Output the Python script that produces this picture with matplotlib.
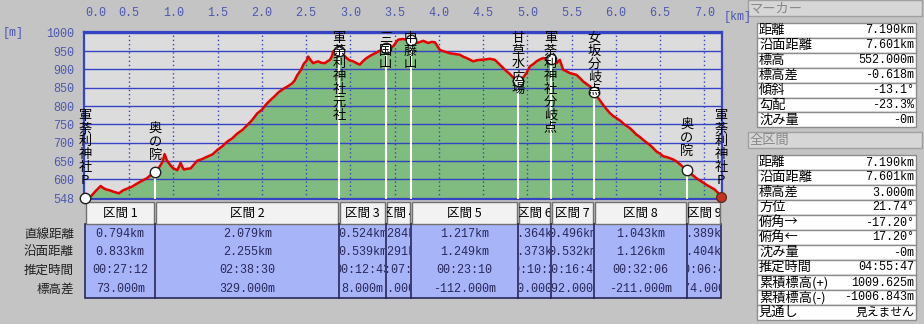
import matplotlib
matplotlib.use("Agg")
import matplotlib.pyplot as plt
from matplotlib import transforms
from matplotlib.patches import Rectangle
import numpy as np

# profile (horizontal distance km, elevation m)
dist_km = [
    0.0, 0.03, 0.064, 0.12, 0.177, 0.21, 0.234, 0.28, 0.328, 0.384,
    0.43, 0.478, 0.53, 0.591, 0.65, 0.70, 0.742, 0.794, 0.83, 0.855,
    0.88, 0.90, 0.925, 0.949, 0.975, 0.998, 1.02, 1.043, 1.065, 1.081,
    1.10, 1.119, 1.155, 1.194, 1.23, 1.269, 1.32, 1.382, 1.44, 1.495,
    1.55, 1.608, 1.665, 1.721, 1.78, 1.834, 1.89, 1.947, 2.0, 2.042,
    2.09, 2.136, 2.19, 2.249, 2.30, 2.342, 2.37, 2.399, 2.44, 2.475,
    2.50, 2.523, 2.55, 2.58, 2.61, 2.636, 2.67, 2.712, 2.74, 2.768,
    2.79, 2.806, 2.84, 2.873, 2.92, 2.957, 2.99, 3.032, 3.07, 3.107,
    3.14, 3.183, 3.23, 3.277, 3.333, 3.397, 3.44, 3.484, 3.51, 3.54,
    3.59, 3.635, 3.681, 3.70, 3.748, 3.79, 3.823, 3.879, 3.92, 3.955,
    3.98, 4.011, 4.06, 4.124, 4.18, 4.237, 4.28, 4.313, 4.388, 4.43,
    4.463, 4.52, 4.576, 4.633, 4.689, 4.73, 4.765, 4.80, 4.839, 4.898,
    4.953, 4.99, 5.028, 5.07, 5.104, 5.14, 5.179, 5.22, 5.262, 5.30,
    5.33, 5.367, 5.405, 5.44, 5.48, 5.556, 5.60, 5.631, 5.67, 5.706,
    5.758, 5.80, 5.857, 5.90, 5.932, 5.97, 6.008, 6.05, 6.102, 6.158,
    6.20, 6.234, 6.27, 6.308, 6.35, 6.384, 6.42, 6.459, 6.50, 6.535,
    6.57, 6.61, 6.65, 6.686, 6.74, 6.801, 6.85, 6.912, 6.97, 7.025,
    7.07, 7.119, 7.16, 7.19]
elev_m = [
    548, 556, 553, 568, 582, 576, 573, 570, 566, 562,
    570, 575, 580, 589, 597, 603, 612, 621, 630, 639,
    650, 669, 652, 644, 636, 630, 628, 625, 636, 645,
    634, 627, 629, 630, 640, 651, 655, 662, 668, 680,
    690, 703, 712, 725, 735, 748, 762, 780, 790, 803,
    815, 825, 838, 848, 855, 862, 870, 884, 898, 916,
    922, 935, 925, 917, 920, 922, 918, 917, 922, 926,
    935, 949, 955, 950, 940, 931, 925, 922, 917, 913,
    922, 931, 938, 944, 951, 958, 960, 963, 972, 981,
    983, 981, 981, 977, 972, 975, 978, 972, 975, 974,
    965, 953, 949, 944, 942, 940, 934, 931, 922, 925,
    926, 927, 929, 926, 913, 903, 895, 888, 878, 869,
    878, 890, 908, 915, 922, 927, 931, 928, 929, 922,
    917, 926, 899, 895, 890, 885, 875, 867, 860, 854,
    837, 822, 803, 790, 781, 773, 767, 760, 749, 740,
    730, 722, 716, 708, 700, 694, 686, 676, 670, 663,
    661, 658, 654, 649, 638, 626, 615, 603, 594, 585,
    579, 572, 562, 552]

marker_names = ["軍荼利神社P", "奥の院", "軍荼利神社元社", "三国山", "中藤山",
                "甘草水広場", "軍荼利神社分岐点", "女坂分岐点", "奥の院", "軍荼利神社P"]
label_top_px = [110, 123, 32, 32, 32, 32, 32, 32, 119, 110]

start_elev = 548
section_direct = [0.794, 2.079, 0.524, 0.284, 1.217, 0.364, 0.496, 1.043, 0.389]
section_surface = [0.833, 2.255, 0.539, 0.291, 1.249, 0.373, 0.532, 1.126, 0.404]
section_time = ["00:27:12", "02:38:30", "00:12:43", "00:07:55", "00:23:10",
                "00:10:25", "00:16:47", "00:32:06", "00:06:44"]
section_diff = [73, 329, 8, 23, -112, 60, -92, -211, -74]
row_names = ["直線距離", "沿面距離", "推定時間", "標高差"]

marker_labels = ["距離", "沿面距離", "標高", "標高差", "傾斜", "勾配", "沈み量"]
marker_values = ["7.190km", "7.601km", "552.000m", "-0.618m", "-13.1°", "-23.3%", "-0m"]
total_labels = ["距離", "沿面距離", "標高差", "方位", "俯角→", "俯角←", "沈み量",
                "推定時間", "累積標高(+)", "累積標高(-)", "見通し"]
total_values = ["7.190km", "7.601km", "3.000m", "21.74°", "-17.20°", "17.20°", "-0m",
                "04:55:47", "1009.625m", "-1006.843m", "見えません"]

y_ticks = [548, 600, 650, 700, 750, 800, 850, 900, 950, 1000]
x_ticks = [0.0, 0.5, 1.0, 1.5, 2.0, 2.5, 3.0, 3.5, 4.0, 4.5, 5.0, 5.5, 6.0, 6.5, 7.0]

JP = ['Noto Sans CJK JP', 'DejaVu Sans']
MONO = ['Liberation Mono', 'Noto Sans CJK JP']
BLUE = '#3444c4'
TICK = '#4c58b0'
NAVY = '#28285a'

W, H = 924, 324
fig = plt.figure(figsize=(W / 100, H / 100), dpi=100)
fig.patch.set_facecolor('#c4c4c4')


def fx(px):
    return px / W


def fy(py):
    return 1 - py / H


def rect_px(x0, y0, x1, y1, **kw):
    r = Rectangle((fx(x0), fy(y1)), (x1 - x0) / W, (y1 - y0) / H,
                  transform=fig.transFigure, **kw)
    fig.add_artist(r)
    return r


ax_l, ax_r, ax_t, ax_b = 84, 722, 32, 199
ax = fig.add_axes([fx(ax_l), fy(ax_b), (ax_r - ax_l) / W, (ax_b - ax_t) / H])
ax.set_facecolor('#dcdcdc')
xmin, xmax = -0.011, 7.2
ymin, ymax = 546.5, 1002
ax.set_xlim(xmin, xmax)
ax.set_ylim(ymin, ymax)
px_km = (xmax - xmin) / (ax_r - ax_l)

ax.fill_between(dist_km, elev_m, ymin, color='#80bc80', lw=0, zorder=1)
for y in y_ticks[1:]:
    ax.axhline(y, color=BLUE, lw=1, zorder=2)
for x in x_ticks[1:]:
    ax.axvline(x, color=BLUE, lw=1, ls=(0, (1, 2)), zorder=2)

marker_km = np.concatenate([[0], np.cumsum(section_direct)])
marker_elev = start_elev + np.concatenate([[0], np.cumsum(section_diff)])

ax.vlines(marker_km, ymin, marker_elev, color='white', lw=1.5, zorder=3)
ax.plot(dist_km, elev_m, color='#e80000', lw=1.8, zorder=4)
ax.plot(marker_km[:-1], marker_elev[:-1], 'o', ms=7.5, mfc='white', mec='#202020',
        mew=1, zorder=5, clip_on=False)
ax.plot(marker_km[-1], marker_elev[-1], 'o', ms=7, mfc='#c83020', mec='#603020',
        mew=1, zorder=5, clip_on=False)

trans = transforms.blended_transform_factory(ax.transData, fig.transFigure)
for km, name, top in zip(marker_km, marker_names, label_top_px):
    for i, ch in enumerate(name):
        ax.text(km, fy(top + 6.4 + i * 12.8), ch, transform=trans, ha='center',
                va='center', fontsize=9.5, family=JP, color='black', zorder=6,
                clip_on=False)

for s in ax.spines.values():
    s.set_color(BLUE)
    s.set_linewidth(1.6)

ax.xaxis.tick_top()
ax.set_xticks(x_ticks)
ax.set_xticklabels([f"{t:.1f}" for t in x_ticks])
ax.set_yticks(y_ticks)
ax.set_yticklabels([str(t) for t in y_ticks])
ax.tick_params(length=0, labelsize=8.5, labelcolor=TICK)
ax.tick_params(axis='x', pad=9)
ax.tick_params(axis='y', pad=7)
for lbl in ax.get_xticklabels() + ax.get_yticklabels():
    lbl.set_fontfamily(MONO)
ax.get_xticklabels()[0].set_horizontalalignment('left')
fig.text(fx(3), fy(33), "[m]", color=TICK, fontsize=8.5, family=MONO, va='center')
fig.text(fx(724), fy(17), "[km]", color=TICK, fontsize=8.5, family=MONO, va='center')

# section table
hd_top, hd_bot, tb_bot = 202, 224, 298
row_y = [234, 252, 270, 289]
n = len(section_direct)
ax.add_patch(Rectangle((marker_km[0], fy(tb_bot)), marker_km[-1] - marker_km[0],
                       (tb_bot - hd_bot) / H, transform=trans, fc='#a8b4f8',
                       ec=NAVY, lw=1.2, clip_on=False, zorder=1))
for j in range(n):
    x0, x1 = marker_km[j], marker_km[j + 1]
    xc = (x0 + x1) / 2
    hd = Rectangle((x0 + px_km, fy(hd_bot)), x1 - x0 - 2 * px_km, (hd_bot - hd_top) / H,
                   transform=trans, fc='#f2f2f2', ec='#707070', lw=1, clip_on=False)
    ax.add_patch(hd)
    t = ax.text(xc, fy((hd_top + hd_bot) / 2), f"区間 {j + 1}", transform=trans,
                ha='center', va='center', fontsize=9, family=JP, color='black',
                clip_on=True)
    t.set_clip_path(hd)
    if j > 0:
        ax.plot([x0, x0], [fy(hd_bot), fy(tb_bot)], transform=trans, color=NAVY,
                lw=1.2, clip_on=False)
    cell = Rectangle((x0 + px_km, fy(tb_bot)), x1 - x0 - 2 * px_km, (tb_bot - hd_bot) / H,
                     transform=trans)
    vals = [f"{section_direct[j]:.3f}km", f"{section_surface[j]:.3f}km",
            section_time[j], f"{section_diff[j]:.3f}m"]
    for v, yy in zip(vals, row_y):
        t = ax.text(xc, fy(yy), v, transform=trans, ha='center', va='center',
                    fontsize=8.5, family=MONO, color=NAVY, clip_on=True)
        t.set_clip_path(cell)

for name, yy in zip(row_names, row_y):
    fig.text(fx(74), fy(yy), name, ha='right', va='center', fontsize=9,
             family=JP, color='#202020')

# right panel
def panel(title, y_head, labels, values, y_rows, pitch):
    rect_px(748, y_head, 922, y_head + 16, fc='#d6d6d6', ec='#a0a0a0', lw=1)
    fig.text(fx(750), fy(y_head + 8.5), title, color='#888888', fontsize=9.5,
             family=JP, va='center')
    for i, (lab, val) in enumerate(zip(labels, values)):
        y0 = y_rows + i * pitch
        rect_px(757, y0, 916, y0 + pitch, fc='white', ec='#8c8c8c', lw=1)
        fig.text(fx(759), fy(y0 + pitch / 2), lab, color='black', fontsize=9.5,
                 family=JP, va='center')
        fig.text(fx(914), fy(y0 + pitch / 2), val, color='black', fontsize=8.5,
                 family=MONO, va='center', ha='right')


panel("マーカー", 0, marker_labels, marker_values, 23, 14.9)
panel("全区間", 132, total_labels, total_values, 155, 15.0)

fig.savefig("out.png", dpi=100, facecolor=fig.get_facecolor())
